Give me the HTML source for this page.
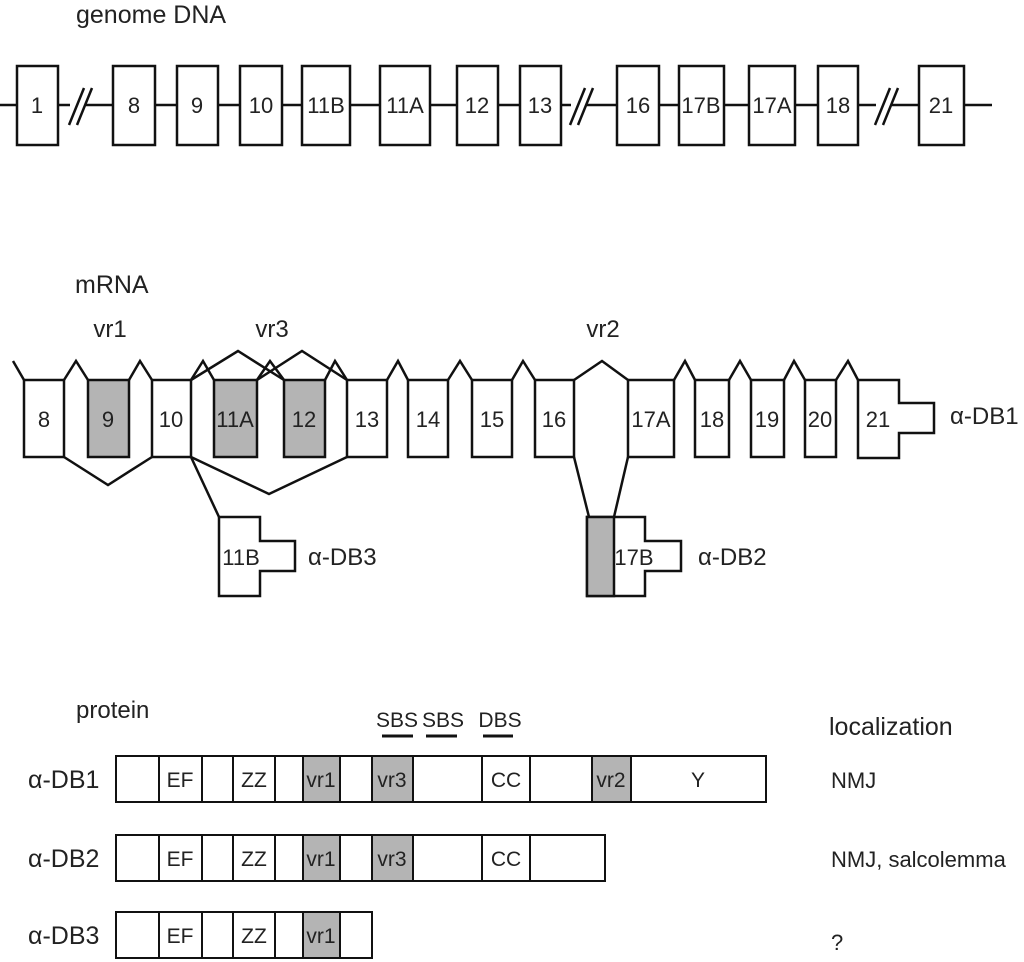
<!DOCTYPE html>
<html><head><meta charset="utf-8"><style>body{margin:0;background:#fff}svg{display:block}text{font-family:"Liberation Sans",sans-serif;fill:#222}</style></head><body>
<svg width="1024" height="962" viewBox="0 0 1024 962" xmlns="http://www.w3.org/2000/svg">
<g stroke="#111" stroke-width="2.5" fill="#fff">
<line x1="0" y1="105" x2="992" y2="105"/>
<rect x="17" y="66" width="41" height="79"/>
<rect x="113" y="66" width="42" height="79"/>
<rect x="177" y="66" width="41" height="79"/>
<rect x="240" y="66" width="42" height="79"/>
<rect x="302" y="66" width="48" height="79"/>
<rect x="380" y="66" width="50" height="79"/>
<rect x="457" y="66" width="41" height="79"/>
<rect x="520" y="66" width="41" height="79"/>
<rect x="617" y="66" width="42" height="79"/>
<rect x="679" y="66" width="45" height="79"/>
<rect x="749" y="66" width="46" height="79"/>
<rect x="818" y="66" width="40" height="79"/>
<rect x="919" y="66" width="45" height="79"/>
</g>
<g stroke="#fff" stroke-width="8"><line x1="70" y1="105" x2="86" y2="105"/><line x1="571" y1="105" x2="587" y2="105"/><line x1="876" y1="105" x2="892" y2="105"/></g>
<g stroke="#111" stroke-width="2.5">
<line x1="69" y1="125" x2="84" y2="88"/><line x1="77" y1="125" x2="92" y2="88"/>
<line x1="570" y1="125" x2="585" y2="88"/><line x1="578" y1="125" x2="593" y2="88"/>
<line x1="875" y1="125" x2="890" y2="88"/><line x1="883" y1="125" x2="898" y2="88"/>
</g>
<g font-size="22" text-anchor="middle">
<text x="37" y="113">1</text><text x="134" y="113">8</text><text x="197" y="113">9</text><text x="261" y="113">10</text><text x="326" y="113">11B</text><text x="405" y="113">11A</text><text x="477" y="113">12</text><text x="540" y="113">13</text><text x="638" y="113">16</text><text x="701" y="113">17B</text><text x="772" y="113">17A</text><text x="838" y="113">18</text><text x="941" y="113">21</text>
</g>
<text x="76" y="23" font-size="25">genome DNA</text>
<text x="75" y="293" font-size="25">mRNA</text>
<g font-size="24" text-anchor="middle"><text x="110" y="337">vr1</text><text x="272" y="337">vr3</text><text x="603" y="337">vr2</text></g>

<g stroke="#111" stroke-width="2.5" fill="none" stroke-linejoin="miter">
<polyline points="13,361 24,380"/>
<polyline points="64,380 76,361 88,380"/>
<polyline points="129,380 140,361 152,380"/>
<polyline points="191,380 203,361 214,380"/>
<polyline points="257,380 270,361 284,380"/>
<polyline points="325,380 335,361 347,380"/>
<polyline points="191,380 238,351 284,380"/>
<polyline points="257,380 302,351 347,380"/>
<polyline points="387,380 398,361 408,380"/>
<polyline points="448,380 460,361 472,380"/>
<polyline points="512,380 523,361 535,380"/>
<polyline points="574,380 602,361 628,380"/>
<polyline points="674,380 685,361 695,380"/>
<polyline points="729,380 740,361 751,380"/>
<polyline points="784,380 794,361 805,380"/>
<polyline points="836,380 848,361 858,380"/>
<polyline points="64,457 108,485 152,457"/>
<polyline points="191,457 269,494 347,457"/>
<polyline points="191,457 219,517"/>
<polyline points="574,457 589,517"/>
<polyline points="628,457 614,517"/>
</g>
<g stroke="#111" stroke-width="2.5" fill="#fff">
<rect x="24" y="380" width="40" height="77"/>
<rect x="88" y="380" width="41" height="77" fill="#b4b4b4"/>
<rect x="152" y="380" width="39" height="77"/>
<rect x="214" y="380" width="43" height="77" fill="#b4b4b4"/>
<rect x="284" y="380" width="41" height="77" fill="#b4b4b4"/>
<rect x="347" y="380" width="40" height="77"/>
<rect x="408" y="380" width="40" height="77"/>
<rect x="472" y="380" width="40" height="77"/>
<rect x="535" y="380" width="39" height="77"/>
<rect x="628" y="380" width="46" height="77"/>
<rect x="695" y="380" width="34" height="77"/>
<rect x="751" y="380" width="33" height="77"/>
<rect x="805" y="380" width="31" height="77"/>
<polygon points="858,380 899,380 899,403 934,403 934,433 899,433 899,458 858,458"/>
<polygon points="219,517 260,517 260,541 295,541 295,571 260,571 260,596 219,596"/>
<polygon points="587,517 645,517 645,541 681,541 681,571 645,571 645,596 587,596"/>
<rect x="587" y="517" width="27" height="79" fill="#b4b4b4"/>
</g>
<g font-size="22" text-anchor="middle">
<text x="44" y="427">8</text><text x="108" y="427">9</text><text x="171" y="427">10</text><text x="235" y="427">11A</text><text x="304" y="427">12</text><text x="367" y="427">13</text><text x="428" y="427">14</text><text x="492" y="427">15</text><text x="554" y="427">16</text><text x="651" y="427">17A</text><text x="712" y="427">18</text><text x="767" y="427">19</text><text x="820" y="427">20</text><text x="878" y="427">21</text>
<text x="241" y="565">11B</text><text x="634" y="565">17B</text>
</g>
<g font-size="24"><text x="950" y="424">α-DB1</text><text x="308" y="565">α-DB3</text><text x="698" y="565">α-DB2</text></g>

<text x="76" y="718" font-size="24">protein</text>
<g font-size="21" text-anchor="middle"><text x="397" y="727">SBS</text><text x="443" y="727">SBS</text><text x="500" y="727">DBS</text></g>
<g stroke="#111" stroke-width="3"><line x1="382" y1="736" x2="413" y2="736"/><line x1="426" y1="736" x2="457" y2="736"/><line x1="483" y1="736" x2="513" y2="736"/></g>
<text x="829" y="735" font-size="25">localization</text>
<g font-size="22"><text x="831" y="788">NMJ</text><text x="831" y="867">NMJ, salcolemma</text><text x="831" y="950">?</text></g>
<g font-size="25"><text x="28" y="788">α-DB1</text><text x="28" y="867">α-DB2</text><text x="28" y="944">α-DB3</text></g>

<g stroke="#111" stroke-width="2" fill="#fff">
<rect x="116" y="756" width="650" height="46"/>
<rect x="303" y="756" width="37" height="46" fill="#b4b4b4"/>
<rect x="372" y="756" width="41" height="46" fill="#b4b4b4"/>
<rect x="592" y="756" width="39" height="46" fill="#b4b4b4"/>
<line x1="159" y1="756" x2="159" y2="802"/><line x1="202" y1="756" x2="202" y2="802"/><line x1="233" y1="756" x2="233" y2="802"/><line x1="275" y1="756" x2="275" y2="802"/><line x1="482" y1="756" x2="482" y2="802"/><line x1="530" y1="756" x2="530" y2="802"/>
<rect x="116" y="835" width="489" height="46"/>
<rect x="303" y="835" width="37" height="46" fill="#b4b4b4"/>
<rect x="372" y="835" width="41" height="46" fill="#b4b4b4"/>
<line x1="159" y1="835" x2="159" y2="881"/><line x1="202" y1="835" x2="202" y2="881"/><line x1="233" y1="835" x2="233" y2="881"/><line x1="275" y1="835" x2="275" y2="881"/><line x1="482" y1="835" x2="482" y2="881"/><line x1="530" y1="835" x2="530" y2="881"/>
<rect x="116" y="912" width="256" height="46"/>
<rect x="303" y="912" width="37" height="46" fill="#b4b4b4"/>
<line x1="159" y1="912" x2="159" y2="958"/><line x1="202" y1="912" x2="202" y2="958"/><line x1="233" y1="912" x2="233" y2="958"/><line x1="275" y1="912" x2="275" y2="958"/>
</g>
<g font-size="21" text-anchor="middle">
<text x="180" y="787">EF</text><text x="254" y="787">ZZ</text><text x="321" y="787">vr1</text><text x="392" y="787">vr3</text><text x="506" y="787">CC</text><text x="611" y="787">vr2</text><text x="698" y="787">Y</text>
<text x="180" y="866">EF</text><text x="254" y="866">ZZ</text><text x="321" y="866">vr1</text><text x="392" y="866">vr3</text><text x="506" y="866">CC</text>
<text x="180" y="943">EF</text><text x="254" y="943">ZZ</text><text x="321" y="943">vr1</text>
</g>
</svg>
</body></html>
